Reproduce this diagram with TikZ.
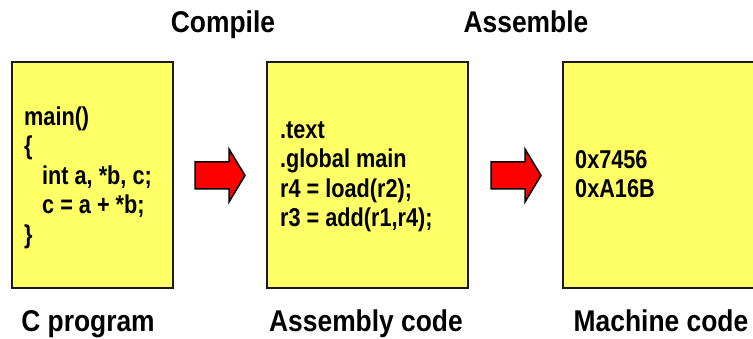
\documentclass[tikz,border=0pt]{standalone}
\usepackage{fontspec}
\setmainfont{Liberation Sans}
\newfontfamily\codefont{Liberation Sans}[FakeStretch=0.84]
\newfontfamily\labfont{Liberation Sans}[FakeStretch=0.88]
\definecolor{boxyellow}{HTML}{FFFF66}
\definecolor{boxline}{HTML}{1A1A1A}
\begin{document}
\begin{tikzpicture}[x=1pt,y=-1pt,
  box/.style={draw=boxline, line width=2.5pt, fill=boxyellow, inner sep=0pt},
  code/.style={font={\codefont\bfseries\fontsize{25.8}{29.5}\selectfont}, align=left, anchor=north west, inner sep=0pt},
  lab/.style={font={\labfont\bfseries\fontsize{30}{34}\selectfont}, anchor=base, inner sep=0pt},
  blockarrow/.style={draw=black, line width=1.5pt, fill=red, line join=miter}]
\useasboundingbox (0,0) rectangle (753,339);
\clip (0,0) rectangle (753,339);
% boxes
\node[box, minimum width=161pt, minimum height=226pt] (cbox) at (92.5,175) {};
\node[box, minimum width=201pt, minimum height=226pt] (abox) at (367.5,175) {};
\node[box, minimum width=212pt, minimum height=226pt] (mbox) at (669,175) {};
% box contents
\node[code] (ctext) at (24,104.35) {\strut main()\\\strut \{\\\strut\hspace*{18pt}int a, *b, c;\\\strut\hspace*{18pt}c = a + *b;\\\strut \}};
\node[code] (atext) at (280,117.35) {\strut .text\\\strut .global main\\\strut r4 = load(r2);\\\strut r3 = add(r1,r4);};
\node[code] (mtext) at (575,147.35) {\strut 0x7456\\\strut 0xA16B};
% block arrows
\foreach \s/\n in {0/carrow,296/aarrow}{
  \draw[blockarrow, xshift=\s pt] (195,162) -- (229,162) -- (229,149) -- (245,175.5) -- (229,202) -- (229,189) -- (195,189) -- cycle;
}
% labels
\node[lab] (compile) at (223,33) {Compile};
\node[lab] (assemble) at (526,33) {Assemble};
\node[lab] (clab) at (88,331) {C program};
\node[lab] (alab) at (366,331) {Assembly code};
\node[lab] (mlab) at (661,331) {Machine code};
\end{tikzpicture}
\end{document}
